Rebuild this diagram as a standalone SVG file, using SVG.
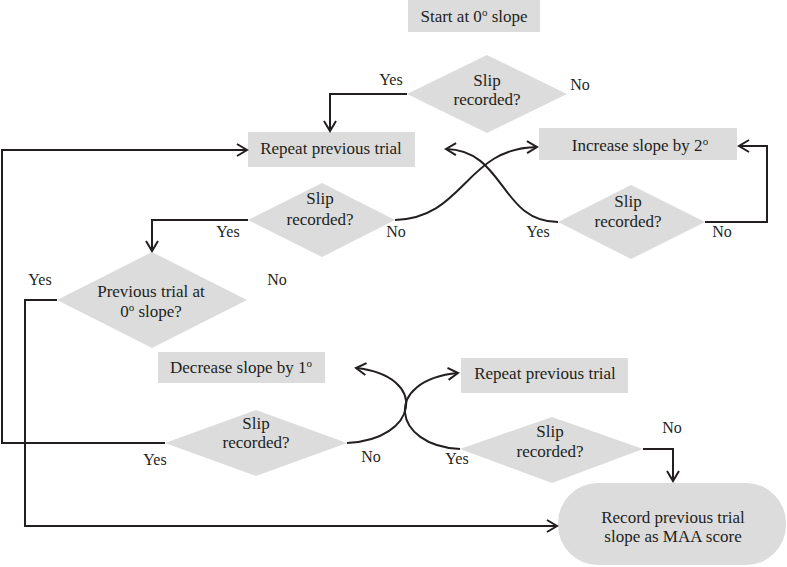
<svg xmlns="http://www.w3.org/2000/svg" width="787" height="567" viewBox="0 0 787 567">
<style>
.box{fill:#dcdcdc;stroke:none}
.t{font-family:"Liberation Serif","Times New Roman",serif;font-size:17px;fill:#231f20;text-anchor:middle}
.lb{font-family:"Liberation Serif","Times New Roman",serif;font-size:16px;fill:#231f20;text-anchor:middle}
.c{fill:none;stroke:#231f20;stroke-width:2}
.sup{font-size:11px}
</style>
<defs>
<marker id="ah" markerUnits="userSpaceOnUse" markerWidth="14" markerHeight="14" refX="10" refY="6" orient="auto" viewBox="-1 -1 14 14">
<path d="M0,0 L10,6 L0,12" fill="none" stroke="#231f20" stroke-width="2"/>
</marker>
</defs>
<rect width="787" height="567" fill="#ffffff"/>
<g id="start">
<rect class="box" x="408" y="0" width="132" height="32"/>
<text class="t" x="474" y="22">Start at 0<tspan class="sup" dy="-6">o</tspan><tspan dy="6"> slope</tspan></text>
</g>
<g id="slip1">
<polygon class="box" points="407,94 487,55 567,94 487,133"/>
<text class="t" x="487" y="86">Slip</text>
<text class="t" x="487" y="105">recorded?</text>
</g>
<g id="repeat1">
<rect class="box" x="248" y="132" width="167" height="35"/>
<text class="t" x="331" y="154">Repeat previous trial</text>
</g>
<g id="increase">
<rect class="box" x="539" y="128" width="198" height="32"/>
<text class="t" x="640" y="151">Increase slope by 2<tspan class="sup" dy="-6">o</tspan></text>
</g>
<g id="slip2">
<polygon class="box" points="248,220 322,183 395,220 322,257"/>
<text class="t" x="320" y="204">Slip</text>
<text class="t" x="320" y="225">recorded?</text>
</g>
<g id="slip3">
<polygon class="box" points="558,222 631,185 705,222 631,259"/>
<text class="t" x="628" y="207">Slip</text>
<text class="t" x="628" y="227">recorded?</text>
</g>
<g id="prev0">
<polygon class="box" points="57,300 152,252 247,300 152,348"/>
<text class="t" x="151" y="297">Previous trial at</text>
<text class="t" x="151" y="317">0<tspan class="sup" dy="-6">o</tspan><tspan dy="6"> slope?</tspan></text>
</g>
<g id="decrease">
<rect class="box" x="158" y="352" width="167" height="31"/>
<text class="t" x="241" y="373">Decrease slope by 1<tspan class="sup" dy="-6">o</tspan></text>
</g>
<g id="repeat2">
<rect class="box" x="461" y="358" width="167" height="35"/>
<text class="t" x="545" y="379">Repeat previous trial</text>
</g>
<g id="slip4">
<polygon class="box" points="165,443 256,410 347,443 256,476"/>
<text class="t" x="256" y="429">Slip</text>
<text class="t" x="256" y="448">recorded?</text>
</g>
<g id="slip5">
<polygon class="box" points="460,449 552,417 643,449 552,483"/>
<text class="t" x="550" y="437">Slip</text>
<text class="t" x="550" y="457">recorded?</text>
</g>
<g id="record">
<rect class="box" x="558" y="483" width="228" height="82" rx="40" ry="40"/>
<text class="t" x="673" y="523">Record previous trial</text>
<text class="t" x="673" y="542">slope as MAA score</text>
</g>
<g id="connectors">
<path class="c" d="M407,94 H330 V131" marker-end="url(#ah)"/>
<path class="c" d="M165,443 H2 V150 H247" marker-end="url(#ah)"/>
<path class="c" d="M248,220 H152 V251" marker-end="url(#ah)"/>
<path class="c" d="M705,222 H767 V146 H739" marker-end="url(#ah)"/>
<path class="c" d="M57,300 H25 V526 H557" marker-end="url(#ah)"/>
<path class="c" d="M643,449 H673 V481" marker-end="url(#ah)"/>
<path class="c" d="M395,220 C465,218 465,148 537,147" marker-end="url(#ah)"/>
<path class="c" d="M558,222 C500,222 505,150 446,149" marker-end="url(#ah)"/>
<path class="c" d="M347,443 C418,440 430,376 356,368" marker-end="url(#ah)"/>
<path class="c" d="M460,449 C392,446 382,380 458,373" marker-end="url(#ah)"/>
</g>
<g id="labels">
<text class="lb" x="391" y="85">Yes</text>
<text class="lb" x="580" y="90">No</text>
<text class="lb" x="228" y="237">Yes</text>
<text class="lb" x="396" y="237">No</text>
<text class="lb" x="538" y="237">Yes</text>
<text class="lb" x="722" y="237">No</text>
<text class="lb" x="40" y="285">Yes</text>
<text class="lb" x="277" y="285">No</text>
<text class="lb" x="155" y="465">Yes</text>
<text class="lb" x="371" y="462">No</text>
<text class="lb" x="457" y="464">Yes</text>
<text class="lb" x="672" y="433">No</text>
</g>
</svg>
